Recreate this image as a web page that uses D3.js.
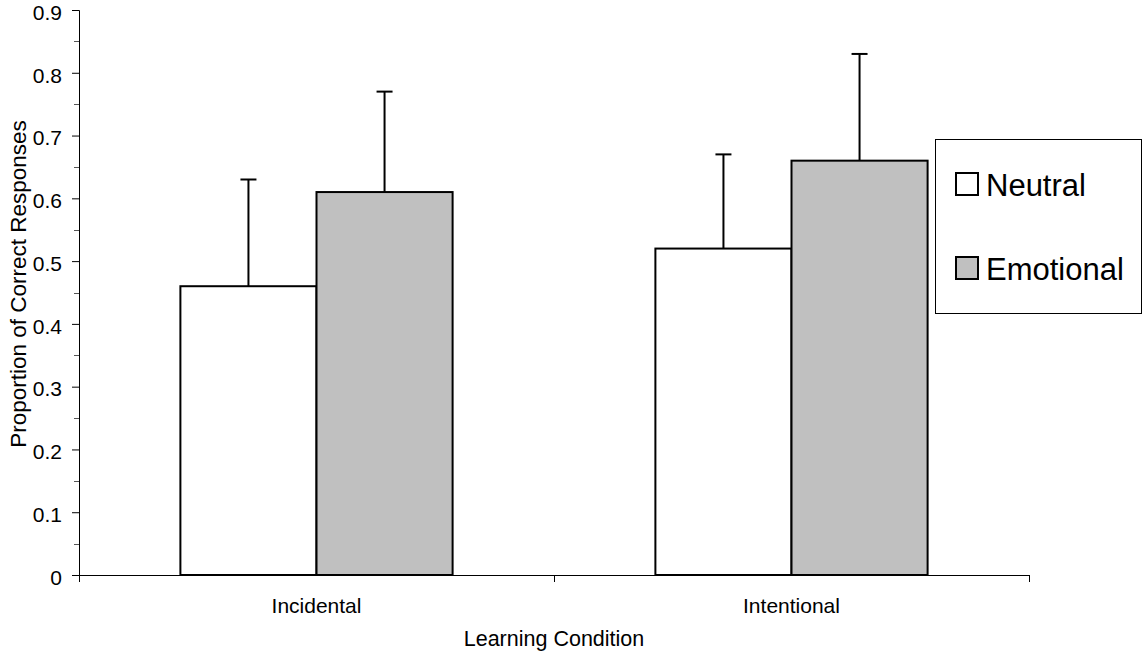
<!DOCTYPE html>
<html><head><meta charset="utf-8">
<script src="https://cdn.jsdelivr.net/npm/d3@7"></script>
<style>body{margin:0;background:#fff;font-family:"Liberation Sans",Arial,sans-serif}</style>
</head><body><svg id="c" width="1144" height="652"></svg>
<script>
const categories = ["Incidental", "Intentional"];
const seriesNames = ["Neutral", "Emotional"];
const neutralValues = [0.46, 0.52];
const emotionalValues = [0.61, 0.66];
const neutralErrors = [0.17, 0.15];
const emotionalErrors = [0.16, 0.17];
const yTicks = [0, 0.1, 0.2, 0.3, 0.4, 0.5, 0.6, 0.7, 0.8, 0.9];
const colors = ["#ffffff", "#c0c0c0"];

(function(){
const FF = "Liberation Sans, Arial, sans-serif";
const svg = d3.select("#c").attr("font-family", FF);
const pL = 79, pR = 1029, pT = 10, pB = 575;
const x = d3.scaleBand().domain(categories).range([pL, pR]).paddingInner(0).paddingOuter(0);
const inner = d3.scaleBand().domain(seriesNames).range([0, x.bandwidth()]).paddingOuter(0.745).paddingInner(0);
const y = d3.scaleLinear().domain([0, 0.9]).range([pB, pT]);

const data = categories.map((c, i) => ({cat: c, vals: [
  {s: "Neutral", v: neutralValues[i], e: neutralErrors[i]},
  {s: "Emotional", v: emotionalValues[i], e: emotionalErrors[i]}]}));

const g = svg.append("g");
data.forEach(d => d.vals.forEach((b, j) => {
  const cx = x(d.cat) + inner(b.s) + inner.bandwidth() / 2;
  g.append("line").attr("x1", cx).attr("x2", cx).attr("y1", y(b.v)).attr("y2", y(b.v + b.e))
    .attr("stroke", "#000").attr("stroke-width", 2);
  g.append("line").attr("x1", cx - 8).attr("x2", cx + 8).attr("y1", y(b.v + b.e)).attr("y2", y(b.v + b.e))
    .attr("stroke", "#000").attr("stroke-width", 2);
}));
data.forEach(d => d.vals.forEach((b, j) => {
  g.append("rect").attr("x", x(d.cat) + inner(b.s)).attr("width", inner.bandwidth())
    .attr("y", y(b.v)).attr("height", y(0) - y(b.v))
    .attr("fill", colors[j]).attr("stroke", "#000").attr("stroke-width", 2);
}));

const ya = svg.append("g").attr("transform", `translate(${pL},0)`)
  .call(d3.axisLeft(y).tickValues(yTicks).tickFormat(d3.format("")).tickSize(7).tickPadding(10));
ya.attr("font-family", FF);
ya.selectAll("text").attr("font-size", 21).attr("fill", "#000").attr("dy", "0.44em");
ya.select(".domain").attr("stroke", "#000");
const minor = d3.range(0.05, 0.9, 0.1);
svg.append("g").selectAll("line").data(minor).join("line")
  .attr("x1", pL - 5).attr("x2", pL).attr("y1", d => Math.round(y(d)) + 0.5).attr("y2", d => Math.round(y(d)) + 0.5)
  .attr("stroke", "#555");

svg.append("line").attr("x1", pL).attr("x2", pR).attr("y1", pB + 0.5).attr("y2", pB + 0.5).attr("stroke", "#000");
const bounds = [pL, x(categories[1]), pR];
svg.append("g").selectAll("line").data(bounds).join("line")
  .attr("x1", d => d + 0.5).attr("x2", d => d + 0.5).attr("y1", pB).attr("y2", pB + 7).attr("stroke", "#000");
svg.append("g").selectAll("text").data(categories).join("text")
  .attr("x", d => x(d) + x.bandwidth() / 2).attr("y", 613).attr("text-anchor", "middle")
  .attr("font-size", 21).text(d => d);

svg.append("text").attr("x", (pL + pR) / 2).attr("y", 646).attr("text-anchor", "middle")
  .attr("font-size", 21.5).text("Learning Condition");
svg.append("text").attr("transform", `translate(26,284) rotate(-90)`).attr("text-anchor", "middle")
  .attr("font-size", 22.5).text("Proportion of Correct Responses");

const lg = svg.append("g");
lg.append("rect").attr("x", 935.5).attr("y", 139.5).attr("width", 206).attr("height", 174)
  .attr("fill", "#fff").attr("stroke", "#000");
seriesNames.forEach((s, i) => {
  const yy = 173 + i * 84;
  lg.append("rect").attr("x", 956).attr("y", yy).attr("width", 22).attr("height", 22)
    .attr("fill", colors[i]).attr("stroke", "#000").attr("stroke-width", 2);
  lg.append("text").attr("x", 986).attr("y", yy + 23).attr("font-size", 31).text(s);
});
})();
</script></body></html>
